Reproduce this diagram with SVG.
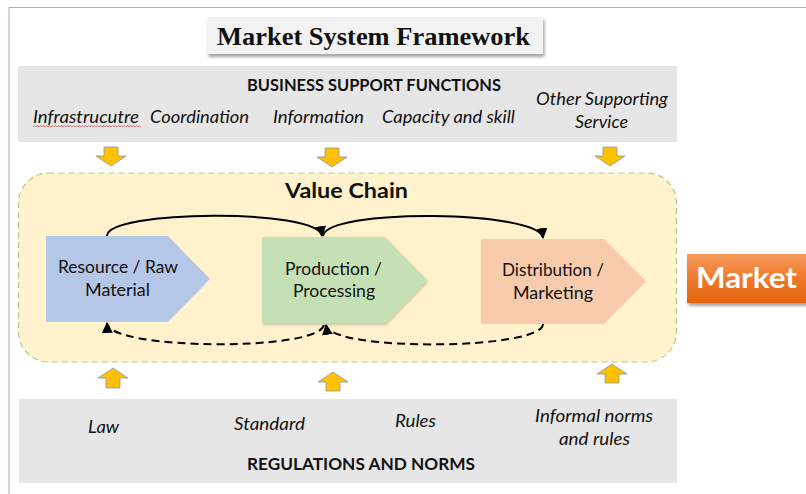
<svg xmlns="http://www.w3.org/2000/svg" width="806" height="494" viewBox="0 0 806 494">
  <defs>
    <style>
      .sans { font-family: Lato, "Open Sans", "Liberation Sans", sans-serif; fill: #111; }
      .it { font-style: italic; font-size: 17px; }
      .head { font-weight: bold; font-size: 17px; }
      .stage { font-size: 17px; text-anchor: start; }
      .panel { fill: #e7e6e6; }
      .yarrow { fill: #ffc000; stroke: #8497b0; stroke-width: 0.8; }
      .flow { fill: none; stroke: #000; stroke-width: 2; }
      .back { fill: none; stroke: #000; stroke-width: 2; stroke-dasharray: 8 5; }
    </style>
    <marker id="ah" viewBox="0 0 10 10" refX="9" refY="5" markerWidth="5.5" markerHeight="5.5" orient="auto" markerUnits="strokeWidth">
      <path d="M0,0 L10,5 L0,10 Z" fill="#000"/>
    </marker>
    <filter id="shadow" x="-10%" y="-20%" width="125%" height="150%">
      <feDropShadow dx="1.5" dy="3" stdDeviation="1.5" flood-color="#000" flood-opacity="0.35"/>
    </filter>
    <filter id="softshadow" x="-10%" y="-10%" width="125%" height="130%">
      <feDropShadow dx="1" dy="2" stdDeviation="1.5" flood-color="#000" flood-opacity="0.2"/>
    </filter>
    <linearGradient id="marketGrad" x1="0" y1="0" x2="0" y2="1">
      <stop offset="0" stop-color="#f59a5e"/>
      <stop offset="0.5" stop-color="#f07a2a"/>
      <stop offset="1" stop-color="#e2640c"/>
    </linearGradient>
  </defs>

  <rect width="806" height="494" fill="#ffffff"/>
  <!-- page frame -->
  <path d="M9,494 V7.5 H806" fill="none" stroke="#9fb0d4" stroke-width="1"/>

  <!-- title -->
  <g id="title">
    <rect x="207" y="17" width="336" height="37" fill="#f2f2f2" filter="url(#shadow)"/>
    <text x="217" y="44.5" font-family="'Liberation Serif', 'DejaVu Serif', serif" font-weight="bold" font-size="25" fill="#111" textLength="313" lengthAdjust="spacingAndGlyphs">Market System Framework</text>
  </g>

  <!-- business support functions panel -->
  <g id="business-support">
    <rect class="panel" x="18" y="66" width="659" height="76"/>
    <text class="sans head" x="247" y="91" textLength="254" lengthAdjust="spacingAndGlyphs">BUSINESS SUPPORT FUNCTIONS</text>
    <text class="sans it" x="33" y="123" textLength="106" lengthAdjust="spacingAndGlyphs">Infrastrucutre</text>
    <path d="M33,127 l1.5,-1.5 l1.5,1.5 l1.5,-1.5 l1.5,1.5 l1.5,-1.5 l1.5,1.5 l1.5,-1.5 l1.5,1.5 l1.5,-1.5 l1.5,1.5 l1.5,-1.5 l1.5,1.5 l1.5,-1.5 l1.5,1.5 l1.5,-1.5 l1.5,1.5 l1.5,-1.5 l1.5,1.5 l1.5,-1.5 l1.5,1.5 l1.5,-1.5 l1.5,1.5 l1.5,-1.5 l1.5,1.5 l1.5,-1.5 l1.5,1.5 l1.5,-1.5 l1.5,1.5 l1.5,-1.5 l1.5,1.5 l1.5,-1.5 l1.5,1.5 l1.5,-1.5 l1.5,1.5 l1.5,-1.5 l1.5,1.5 l1.5,-1.5 l1.5,1.5 l1.5,-1.5 l1.5,1.5 l1.5,-1.5 l1.5,1.5 l1.5,-1.5 l1.5,1.5 l1.5,-1.5 l1.5,1.5 l1.5,-1.5 l1.5,1.5 l1.5,-1.5 l1.5,1.5 l1.5,-1.5 l1.5,1.5 l1.5,-1.5 l1.5,1.5 l1.5,-1.5 l1.5,1.5 l1.5,-1.5 l1.5,1.5 l1.5,-1.5 l1.5,1.5 l1.5,-1.5 l1.5,1.5 l1.5,-1.5 l1.5,1.5 l1.5,-1.5 l1.5,1.5 l1.5,-1.5 l1.5,1.5 l1.5,-1.5 l1.5,1.5 l1.5,-1.5 l1.5,1.5" fill="none" stroke="#e05a5a" stroke-width="0.8"/>
    <text class="sans it" x="150" y="123" textLength="99" lengthAdjust="spacingAndGlyphs">Coordination</text>
    <text class="sans it" x="273" y="123" textLength="91" lengthAdjust="spacingAndGlyphs">Information</text>
    <text class="sans it" x="382" y="123" textLength="133" lengthAdjust="spacingAndGlyphs">Capacity and skill</text>
    <text class="sans it" x="536" y="105" textLength="132" lengthAdjust="spacingAndGlyphs">Other Supporting</text>
    <text class="sans it" x="575" y="128" textLength="53" lengthAdjust="spacingAndGlyphs">Service</text>
  </g>

  <!-- support arrows pointing into the value chain -->
  <g id="support-arrows">
    <path class="yarrow" d="M104,147 h14 v9 h8 l-15,10 l-15,-10 h8 z"/>
    <path class="yarrow" d="M325,148 h14 v9 h8 l-15,10 l-15,-10 h8 z"/>
    <path class="yarrow" d="M603,147 h14 v9 h8 l-15,10 l-15,-10 h8 z"/>
  </g>

  <!-- value chain container -->
  <g id="value-chain">
    <rect x="18.5" y="173" width="658" height="189" rx="30" ry="30" fill="#fff2cc" stroke="#a9d18e" stroke-width="1.2" stroke-dasharray="6 4"/>
    <text x="285" y="198" font-family="Lato, 'Open Sans', 'Liberation Sans', sans-serif" font-weight="bold" font-size="20" fill="#111" textLength="123" lengthAdjust="spacingAndGlyphs">Value Chain</text>
  </g>

  <g id="resource">
    <path d="M46,236 H168 L210,279 L168,322 H46 Z" fill="#b4c7e7"/>
    <text class="sans stage" x="58" y="273" textLength="120" lengthAdjust="spacingAndGlyphs">Resource / Raw</text>
    <text class="sans stage" x="85" y="296" textLength="65" lengthAdjust="spacingAndGlyphs">Material</text>
  </g>

  <g id="production">
    <path d="M262,237 H385 L427,280 L385,323 H262 Z" fill="#c5e0b4" filter="url(#softshadow)"/>
    <text class="sans stage" x="285" y="275" textLength="97" lengthAdjust="spacingAndGlyphs">Production /</text>
    <text class="sans stage" x="293" y="297" textLength="82" lengthAdjust="spacingAndGlyphs">Processing</text>
  </g>

  <g id="distribution">
    <path d="M481,239 H604 L646,281.5 L604,324 H481 Z" fill="#f8cbad"/>
    <text class="sans stage" x="502" y="276" textLength="102" lengthAdjust="spacingAndGlyphs">Distribution /</text>
    <text class="sans stage" x="513" y="299" textLength="80" lengthAdjust="spacingAndGlyphs">Marketing</text>
  </g>

  <g id="market">
    <rect x="687" y="254" width="125" height="49" fill="url(#marketGrad)" filter="url(#shadow)"/>
    <text x="696" y="288" font-family="Lato, 'Open Sans', 'Liberation Sans', sans-serif" font-weight="bold" font-size="29" fill="#ffffff" textLength="101" lengthAdjust="spacingAndGlyphs">Market</text>
  </g>

  <!-- flows between stages -->
  <g id="connectors">
    <path class="flow" d="M107,236 C107,210 318,208 322,236" marker-end="url(#ah)"/>
    <path class="flow" d="M323,236 C327,208 540,210 543,238" marker-end="url(#ah)"/>
    <path class="back" d="M543,324 C543,350 330,352 326,325" marker-end="url(#ah)"/>
    <path class="back" d="M324,325 C318,352 108,350 107,323" marker-end="url(#ah)"/>
  </g>

  <!-- regulation arrows pointing into the value chain -->
  <g id="regulation-arrows">
    <path class="yarrow" d="M113,368 l15,10 h-8 v10 h-14 v-10 h-8 z"/>
    <path class="yarrow" d="M333,372 l15,10 h-8 v9 h-14 v-9 h-8 z"/>
    <path class="yarrow" d="M612,364 l15,10 h-8 v9 h-14 v-9 h-8 z"/>
  </g>

  <!-- regulations and norms panel -->
  <g id="regulations">
    <rect class="panel" x="19" y="399" width="658" height="84"/>
    <text class="sans it" x="88" y="433" textLength="31" lengthAdjust="spacingAndGlyphs">Law</text>
    <text class="sans it" x="234" y="430" textLength="71" lengthAdjust="spacingAndGlyphs">Standard</text>
    <text class="sans it" x="395" y="427" textLength="41" lengthAdjust="spacingAndGlyphs">Rules</text>
    <text class="sans it" x="535" y="422" textLength="118" lengthAdjust="spacingAndGlyphs">Informal norms</text>
    <text class="sans it" x="559" y="445" textLength="71" lengthAdjust="spacingAndGlyphs">and rules</text>
    <text class="sans head" x="247" y="470" textLength="228" lengthAdjust="spacingAndGlyphs">REGULATIONS AND NORMS</text>
  </g>
</svg>
